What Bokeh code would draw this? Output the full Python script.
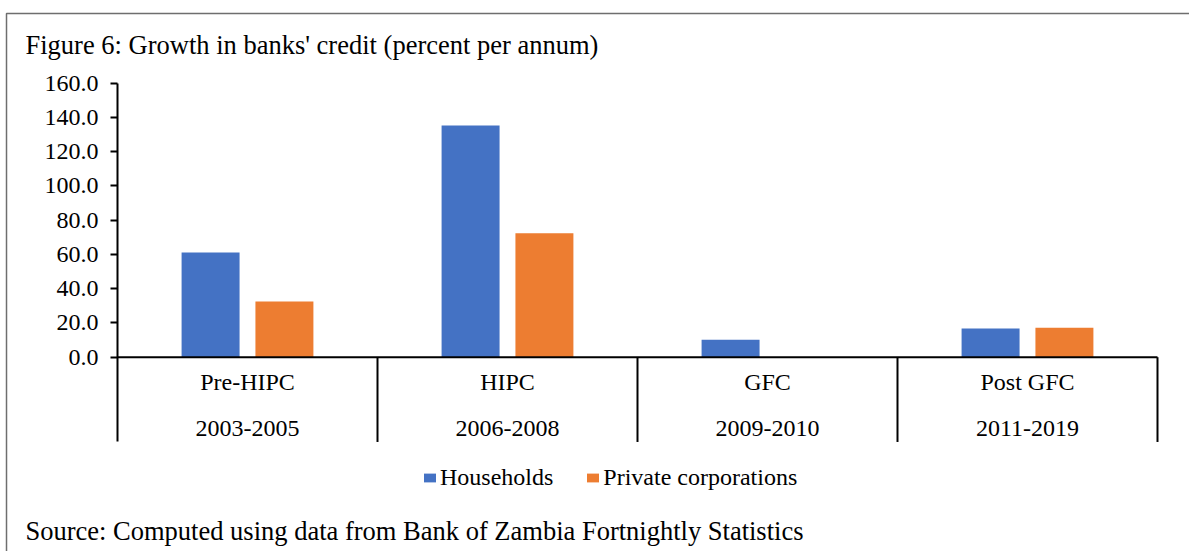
import numpy as np
from bokeh.plotting import figure
from bokeh.models import (Range1d, LinearAxis, FixedTicker, NumeralTickFormatter, Label,
                          BoxAnnotation, Legend, LegendItem)
from bokeh.core.properties import value
from bokeh.embed import file_html
from bokeh.resources import INLINE

# ---- data ----
periods = ["Pre-HIPC", "HIPC", "GFC", "Post GFC"]
years = ["2003-2005", "2006-2008", "2009-2010", "2011-2019"]
households = [61.1, 135.3, 10.2, 16.8]
private_corporations = [32.5, 72.4, 0.0, 17.2]
y_ticks = [0, 20, 40, 60, 80, 100, 120, 140, 160]
series_names = ["Households", "Private corporations"]

title_text = "Figure 6: Growth in banks' credit (percent per annum)"
source_text = "Source: Computed using data from Bank of Zambia Fortnightly Statistics"

# ---- style ----
BLUE = "#4472C4"
ORANGE = "#ED7D31"
FONT = "Liberation Serif"
W, H = 1189, 551
n = len(periods)

p = figure(width=W, height=H, output_backend="svg", toolbar_location=None,
           x_range=Range1d(-0.45, 4.1231), y_range=Range1d(-113.46, 208.3),
           min_border_left=0, min_border_right=0, min_border_top=0, min_border_bottom=0,
           x_axis_type=None, y_axis_type=None)
p.outline_line_color = None
p.background_fill_color = "white"
p.border_fill_color = "white"

yaxis = LinearAxis(ticker=FixedTicker(ticks=y_ticks), formatter=NumeralTickFormatter(format="0.0"),
                   fixed_location=0, bounds=(-49.5, max(y_ticks)),
                   axis_line_width=2, axis_line_color="black",
                   major_tick_line_width=2, major_tick_line_color="black",
                   major_tick_out=7, major_tick_in=0, minor_tick_line_color=None,
                   major_label_standoff=12, major_label_text_font=FONT,
                   major_label_text_font_size="24px", major_label_text_color="black")
p.add_layout(yaxis, "left")

xc = np.arange(n) + 0.5
off, bw = 0.142, 0.223
r1 = p.vbar(x=xc - off, top=households, bottom=0, width=bw, fill_color=BLUE, line_color=None)
r2 = p.vbar(x=xc + off, top=private_corporations, bottom=0, width=bw, fill_color=ORANGE, line_color=None)

# baseline and group separators
p.segment(x0=[0], x1=[n], y0=[0], y1=[0], line_color="black", line_width=2)
sep = np.arange(1, n + 1)
p.segment(x0=sep, x1=sep, y0=0, y1=-49.5, line_color="black", line_width=2)

# category labels
p.text(x=xc, y=-14.6, text=periods, text_align="center", text_baseline="middle",
       text_font=value(FONT), text_font_size=value("24px"), text_color="black")
p.text(x=xc, y=-41.8, text=years, text_align="center", text_baseline="middle",
       text_font=value(FONT), text_font_size=value("24px"), text_color="black")

legend = Legend(items=[LegendItem(label=series_names[0], renderers=[r1]),
                       LegendItem(label=series_names[1], renderers=[r2])],
                orientation="horizontal", location=(422, 60),
                glyph_width=15, glyph_height=11, label_standoff=3, spacing=32,
                padding=0, margin=0, border_line_color=None, background_fill_alpha=0,
                label_text_font=FONT, label_text_font_size="24px", label_text_color="black")
p.add_layout(legend)

p.add_layout(Label(x=-0.3538, y=182.6, text=title_text, text_baseline="middle",
                   text_font=FONT, text_font_size="26.5px", text_color="black"))
p.add_layout(Label(x=-0.3538, y=-101.2, text=source_text, text_baseline="middle",
                   text_font=FONT, text_font_size="26.5px", text_color="black"))

# outer frame border (left and top visible)
p.add_layout(BoxAnnotation(left=-0.4269, right=5, top=200.7, bottom=-300,
                           fill_alpha=0, line_color="#6e6e6e", line_alpha=1.0, line_width=1.5))

open("out.html", "w").write(file_html(p, INLINE))
